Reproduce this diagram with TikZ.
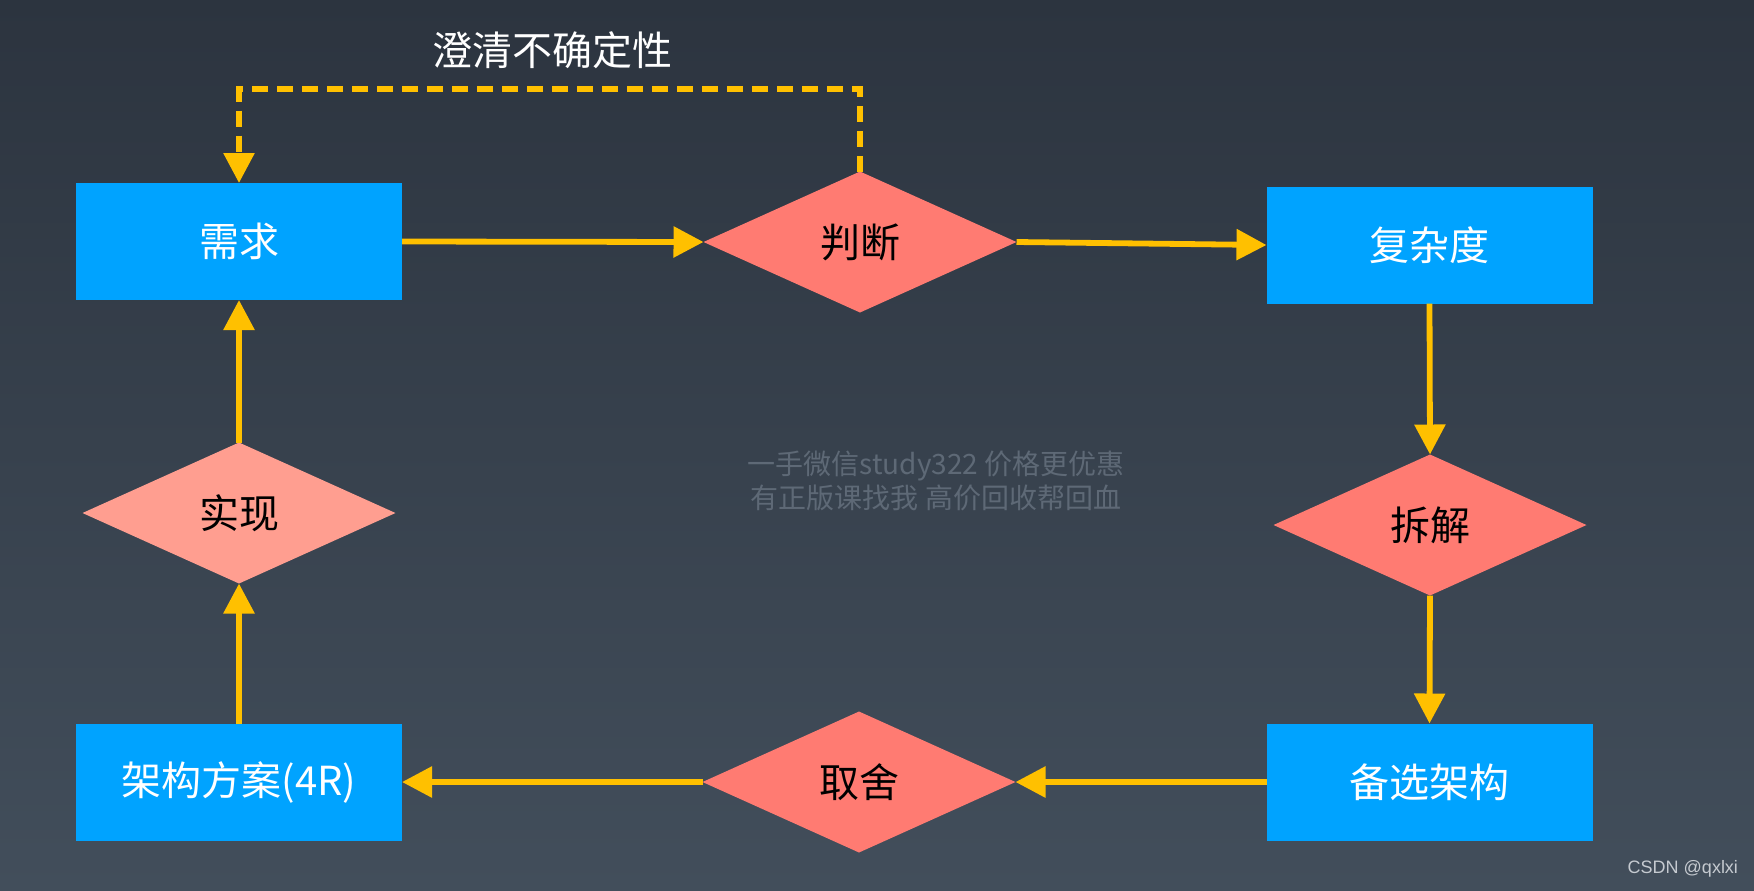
\documentclass[tikz,border=0pt]{standalone}
\usepackage{fontspec}
\setmainfont{Noto Sans CJK SC}
\newfontfamily\csdnfont{Liberation Sans}
\usetikzlibrary{arrows.meta,shapes.geometric}
\definecolor{flowBgTop}{HTML}{2C343F}
\definecolor{flowBgBot}{HTML}{424E5B}
\definecolor{flowBlue}{HTML}{00A3FF}
\definecolor{flowRed}{HTML}{FF7B72}
\definecolor{flowPink}{HTML}{FF9E90}
\definecolor{flowYellow}{HTML}{FFC000}
\definecolor{flowMark}{HTML}{5E6976}
\definecolor{flowGray}{HTML}{C5CAD0}
\tikzset{
  flow diagram/.style={
    x=0.5pt, y=-0.5pt,
    >={Triangle[length=15pt,width=15pt]},
    every node/.style={font=\fontsize{20}{24}\selectfont,
      inner sep=0pt, outer sep=0pt}
  },
  flow box/.style={rectangle, fill=flowBlue, text=white,
    minimum width=163pt, minimum height=58.5pt},
  flow test/.style={diamond, aspect=2.2, fill=flowRed, text=black,
    minimum width=156.5pt, minimum height=70.5pt},
  flow link/.style={draw=flowYellow, line width=2.9pt, ->},
  flow back/.style={flow link, dash pattern=on 8pt off 4.5pt}
}

\begin{document}
\begin{tikzpicture}[flow diagram]
    \useasboundingbox (0,0) rectangle (1754,890);
    \shade[top color=flowBgTop, bottom color=flowBgBot] (0,0) rectangle (1754,890);
    % loop of steps
    \node[flow box] (req) at (239,241.5) {需求};
    \node[flow test] (judge) at (860,242) {判断};
    \node[flow box] (complex) at (1429.5,245) {复杂度};
    \node[flow test] (split) at (1430,525) {拆解};
    \node[flow box] (options) at (1429.5,782) {备选架构};
    \node[flow test] (trade) at (859,782) {取舍};
    \node[flow box] (plan) at (239,782) {架构方案(4R)};
    \node[flow test, fill=flowPink] (build) at (239,513) {实现};
    \draw[flow link] (req.east) -- (judge.west);
    \draw[flow link] (judge.east) -- (complex.west);
    \draw[flow link] (complex.south) -- (split.north);
    \draw[flow link] (split.south) -- (options.north);
    \draw[flow link] (options.west) -- (trade.east);
    \draw[flow link] (trade.west) -- (plan.east);
    \draw[flow link] (plan.north) -- (build.south);
    \draw[flow link] (build.north) -- (req.south);
    % feedback
    \coordinate (clarifyTop) at (239,89);
    \draw[flow back] (judge.north) |- (clarifyTop) -- (req.north);
    \node[text=white] (clarify) at (552,50) {澄清不确定性};
    \node[text=flowMark, font=\fontsize{14}{17}\selectfont, align=center]
      (mark) at (936,481) {一手微信study322 价格更优惠\\有正版课找我 高价回收帮回血};
    \node[text=flowGray, font=\csdnfont\fontsize{9}{10.8}\selectfont, anchor=east]
      (credit) at (1738,869) {CSDN @qxlxi};
  \end{tikzpicture}
\end{document}
